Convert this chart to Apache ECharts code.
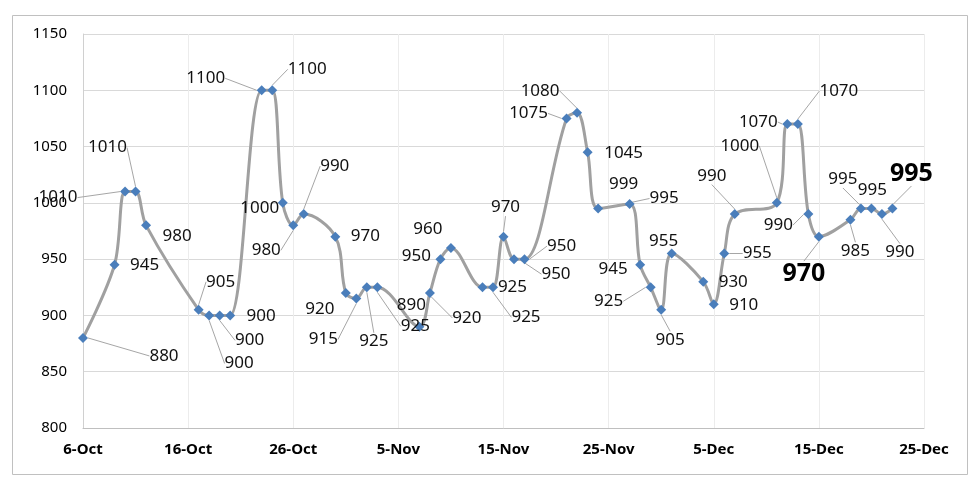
<!DOCTYPE html>
<html>
<head>
<meta charset="utf-8">
<script src="https://cdn.jsdelivr.net/npm/echarts@6/dist/echarts.min.js"></script>
<style>
html,body{margin:0;padding:0;background:#fff;}
#chart{width:980px;height:486px;}
</style>
</head>
<body>
<div id="chart"></div>
<script>
// ---- data ----
var year = 2019;
var dates = ['10-06','10-09','10-10','10-11','10-12','10-17','10-18','10-19','10-20','10-23',
             '10-24','10-25','10-26','10-27','10-30','10-31','11-01','11-02','11-03','11-07',
             '11-08','11-09','11-10','11-13','11-14','11-15','11-16','11-17','11-21','11-22',
             '11-23','11-24','11-27','11-28','11-29','11-30','12-01','12-04','12-05','12-06',
             '12-07','12-11','12-12','12-13','12-14','12-15','12-18','12-19','12-20','12-21','12-22'];
var values = [880,945,1010,1010,980,905,900,900,900,1100,
              1100,1000,980,990,970,920,915,925,925,890,
              920,950,960,925,925,970,950,950,1075,1080,
              1045,995,999,945,925,905,955,930,910,955,
              990,1000,1070,1070,990,970,985,995,995,990,995];
var yTicks = [800, 850, 900, 950, 1000, 1050, 1100, 1150];
var monthNames = ['Jan','Feb','Mar','Apr','May','Jun','Jul','Aug','Sep','Oct','Nov','Dec'];

// ---- label layout (offset of label centre from its point, px; leader flag) ----
var labelOffsets = [
  [81,18,1],[30,0,0],[-67,6,1],[-28,-44,1],[31,11,0],[22,-28,1],[30,48,1],[30,25,1],[31,1,0],[-56,-12,1],
  [35,-21,1],[-23,5,0],[-27,25,1],[31,-48,1],[30,0,0],[-26,16,0],[-33,41,1],[7,54,1],[38,39,1],[-8,-22,0],
  [37,25,1],[-24,-3,0],[-23,-19,0],[30,0,0],[33,30,1],[2,-29,1],[42,15,1],[37,-13,1],[-38,-5,1],[-37,-22,1],
  [36,1,0],[66,-10,1],[-6,-20,0],[-27,4,0],[-42,14,1],[9,30,1],[-8,-12,0],[30,0,0],[30,1,0],[33,0,1],
  [-23,-38,1],[-37,-57,1],[-29,-2,1],[41,-33,1],[-30,11,1],[-15,37,1],[5,31,1],[-18,-29,1],[1,-18,0],[18,38,1],[19,-35,1]
];
var boldLabels = [45, 50];

var base = Date.UTC(year, 9, 6);
function dayOffset(s) {
  var p = s.split('-');
  return Math.round((Date.UTC(year, +p[0] - 1, +p[1]) - base) / 86400000);
}
function fmtDay(d) {
  var dt = new Date(base + d * 86400000);
  return dt.getUTCDate() + '-' + monthNames[dt.getUTCMonth()];
}

var seriesData = dates.map(function (s, i) {
  var item = { value: [dayOffset(s), values[i]] };
  if (boldLabels.indexOf(i) >= 0) {
    item.label = { fontSize: 25, fontWeight: 'bold', color: '#000' };
  }
  item.labelLine = { show: !!labelOffsets[i][2] };
  return item;
});

var chart = echarts.init(document.getElementById('chart'), null, { renderer: 'canvas' });
chart.setOption({
  animation: false,
  backgroundColor: '#fff',
  graphic: [{
    type: 'rect',
    shape: { x: 12.5, y: 15.5, width: 955, height: 459 },
    style: { fill: 'none', stroke: '#c0c0c0', lineWidth: 1 },
    silent: true, z: -1
  }],
  grid: { left: 83, right: 56, top: 34, bottom: 58, containLabel: false },
  xAxis: {
    type: 'value', min: 0, max: 80, interval: 10,
    axisLine: { show: true, lineStyle: { color: '#bfbfbf', width: 1 } },
    axisTick: { show: false },
    splitLine: { show: true, lineStyle: { color: '#ececec', width: 1 } },
    axisLabel: {
      margin: 14, color: '#000', fontFamily: 'Noto Sans', fontWeight: 'bold', fontSize: 15,
      formatter: function (v) { return fmtDay(v); }
    }
  },
  yAxis: {
    type: 'value', min: yTicks[0], max: yTicks[yTicks.length - 1], interval: 50,
    axisLine: { show: true, lineStyle: { color: '#d0d0d0', width: 1 } },
    axisTick: { show: false },
    splitLine: { show: true, lineStyle: { color: '#d9d9d9', width: 1 } },
    axisLabel: {
      margin: 16, color: '#000', fontFamily: 'Noto Sans', fontSize: 15,
      formatter: function (v) { return String(v); }
    }
  },
  series: [{
    type: 'line',
    data: seriesData,
    smooth: 0.35,
    showAllSymbol: true,
    symbol: 'diamond',
    symbolSize: 10,
    lineStyle: { color: '#a0a0a0', width: 3 },
    itemStyle: { color: '#4a7ebb' },
    label: {
      show: true, position: 'inside', color: '#111',
      fontFamily: 'Noto Sans', fontSize: 17,
      formatter: function (p) { return p.value[1]; }
    },
    labelLine: {
      show: false,
      lineStyle: { color: '#a6a6a6', width: 1 }
    },
    labelLayout: function (params) {
      var o = labelOffsets[params.dataIndex];
      return { dx: o[0], dy: o[1] };
    }
  }]
});
</script>
</body>
</html>
